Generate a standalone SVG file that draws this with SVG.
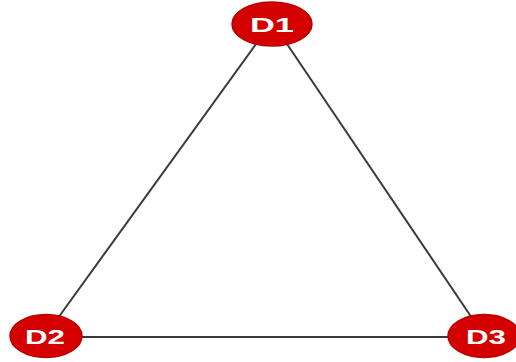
<svg xmlns="http://www.w3.org/2000/svg" width="516" height="362" viewBox="0 0 516 362">
<style>
.node ellipse{fill:#d40000;stroke:#b80000;stroke-width:1.5}
.node text{fill:#fff;font-family:"Liberation Sans",Arial,sans-serif;font-weight:bold;font-size:21px;text-anchor:middle}
.edge{stroke:#3a3a3a;stroke-width:2;fill:none}
</style>
<rect width="516" height="362" fill="#fff"/>
<g id="connectors">
<line class="edge" x1="256" y1="44" x2="58" y2="318"/>
<line class="edge" x1="287" y1="44" x2="472" y2="318"/>
<line class="edge" x1="80" y1="337" x2="450" y2="337"/>
</g>
<g id="D1" class="node"><ellipse cx="272" cy="24" rx="40" ry="22"/><text x="272" y="32" textLength="44" lengthAdjust="spacingAndGlyphs">D1</text></g>
<g id="D2" class="node"><ellipse cx="46" cy="336" rx="36" ry="21.5"/><text x="45" y="344" textLength="40" lengthAdjust="spacingAndGlyphs">D2</text></g>
<g id="D3" class="node"><ellipse cx="484" cy="336" rx="36" ry="21.5"/><text x="486" y="344" textLength="40" lengthAdjust="spacingAndGlyphs">D3</text></g>
</svg>
